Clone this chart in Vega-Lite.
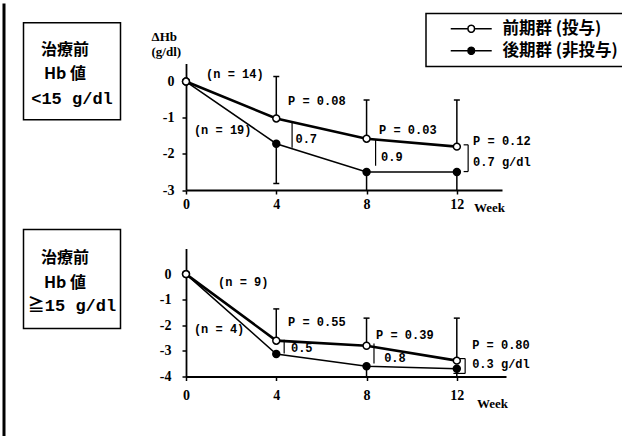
{
  "$schema": "https://vega.github.io/schema/vega-lite/v6.json",
  "padding": {"left": 0.5, "top": 0, "right": 0, "bottom": 0},
  "background": "white",
  "datasets": {
    "means1": [
      {"week": 0, "value": 0, "group": "後期群 (非投与)"},
      {"week": 4, "value": -1.72, "group": "後期群 (非投与)"},
      {"week": 8, "value": -2.5, "group": "後期群 (非投与)"},
      {"week": 12, "value": -2.5, "group": "後期群 (非投与)"},
      {"week": 0, "value": 0, "group": "前期群 (投与)"},
      {"week": 4, "value": -1.02, "group": "前期群 (投与)"},
      {"week": 8, "value": -1.58, "group": "前期群 (投与)"},
      {"week": 12, "value": -1.8, "group": "前期群 (投与)"}
    ],
    "means2": [
      {"week": 0, "value": 0, "group": "後期群 (非投与)"},
      {"week": 4, "value": -3.12, "group": "後期群 (非投与)"},
      {"week": 8, "value": -3.6, "group": "後期群 (非投与)"},
      {"week": 12, "value": -3.7, "group": "後期群 (非投与)"},
      {"week": 0, "value": 0, "group": "前期群 (投与)"},
      {"week": 4, "value": -2.6, "group": "前期群 (投与)"},
      {"week": 8, "value": -2.8, "group": "前期群 (投与)"},
      {"week": 12, "value": -3.38, "group": "前期群 (投与)"}
    ],
    "err1": [
      {"week": 4, "from": -1.02, "to": 0.14, "cap": 0.14},
      {"week": 8, "from": -1.58, "to": -0.51, "cap": -0.51},
      {"week": 12, "from": -1.8, "to": -0.51, "cap": -0.51},
      {"week": 4, "from": -1.72, "to": -2.82, "cap": -2.82},
      {"week": 8, "from": -2.5, "to": -3, "cap": null},
      {"week": 12, "from": -2.5, "to": -3, "cap": null}
    ],
    "err2": [
      {"week": 4, "from": -2.6, "to": -1.36, "cap": -1.36},
      {"week": 8, "from": -2.8, "to": -1.72, "cap": -1.72},
      {"week": 12, "from": -3.38, "to": -1.72, "cap": -1.72},
      {"week": 8, "from": -3.6, "to": -4, "cap": null},
      {"week": 12, "from": -3.7, "to": -4, "cap": null}
    ],
    "brk1": [
      {"x1": 4.7, "y1": -1.1, "x2": 4.7, "y2": -1.83},
      {"x1": 8.4, "y1": -1.6, "x2": 8.4, "y2": -2.33},
      {"x1": 12.5, "y1": -1.75, "x2": 12.5, "y2": -2.49},
      {"x1": 12.3, "y1": -1.75, "x2": 12.5, "y2": -1.75},
      {"x1": 12.3, "y1": -2.49, "x2": 12.5, "y2": -2.49}
    ],
    "brk2": [
      {"x1": 4.35, "y1": -2.56, "x2": 4.35, "y2": -3.1},
      {"x1": 8.33, "y1": -2.71, "x2": 8.33, "y2": -3.49},
      {"x1": 11.85, "y1": -3.3, "x2": 12.37, "y2": -3.3},
      {"x1": 12.37, "y1": -3.3, "x2": 12.37, "y2": -3.88},
      {"x1": 11.85, "y1": -3.88, "x2": 12.37, "y2": -3.88}
    ],
    "notes1": [
      {"x": 0.89, "y": 0.22, "label": "(n = 14)"},
      {"x": 0.35, "y": -1.33, "label": "(n = 19)"},
      {"x": 4.52, "y": -0.53, "label": "P = 0.08"},
      {"x": 4.85, "y": -1.6, "label": "0.7"},
      {"x": 8.55, "y": -1.33, "label": "P = 0.03"},
      {"x": 8.64, "y": -2.08, "label": "0.9"},
      {"x": 12.72, "y": -1.64, "label": "P = 0.12"},
      {"x": 12.72, "y": -2.22, "label": "0.7 g/dl"}
    ],
    "notes2": [
      {"x": 1.42, "y": -0.32, "label": "(n = 9)"},
      {"x": 0.35, "y": -2.13, "label": "(n = 4)"},
      {"x": 4.52, "y": -1.88, "label": "P = 0.55"},
      {"x": 4.65, "y": -2.89, "label": "0.5"},
      {"x": 8.42, "y": -2.37, "label": "P = 0.39"},
      {"x": 8.78, "y": -3.27, "label": "0.8"},
      {"x": 12.68, "y": -2.76, "label": "P = 0.80"},
      {"x": 12.68, "y": -3.5, "label": "0.3 g/dl"}
    ],
    "box1": [
      {"row": 1, "t": "治療前"},
      {"row": 2, "t": "Hb 値"},
      {"row": 3, "t": "<15 g/dl"}
    ],
    "box2": [
      {"row": 1, "t": "治療前"},
      {"row": 2, "t": "Hb 値"},
      {"row": 3, "t": "≧15 g/dl"}
    ]
  },
  "spacing": 15,
  "resolve": {"scale": {"fill": "independent"}, "legend": {"fill": "independent"}},
  "hconcat": [
    {
      "width": 1,
      "height": 433,
      "data": {"values": [{"v": 0}, {"v": 1}]},
      "mark": {"type": "point", "opacity": 0},
      "encoding": {
        "y": {"field": "v", "type": "quantitative", "axis": {"domainWidth": 3, "ticks": false, "labels": false, "title": null, "grid": false}}
      }
    },
    {
      "spacing": 29.5,
      "resolve": {"scale": {"fill": "independent"}, "legend": {"fill": "independent"}},
      "hconcat": [
        {
          "spacing": 107.5,
          "vconcat": [
            {
              "spacing": 17.75,
              "vconcat": [
                {"width": 1, "height": 1, "data": {"values": [{}]}, "mark": {"type": "point", "size": 0, "opacity": 0, "strokeWidth": 0}},
                {
                  "width": 97,
                  "height": 97,
                  "view": {"stroke": "black", "strokeWidth": 1.5},
                  "data": {"name": "box1"},
                  "encoding": {
                    "y": {"field": "row", "type": "ordinal", "scale": {"type": "point", "domain": [1, 2, 3], "padding": 1}, "axis": null},
                    "text": {"field": "t"}
                  },
                  "layer": [
                    {"transform": [{"filter": "datum.row < 3"}], "mark": {"type": "text", "font": "Noto Sans CJK JP", "fontSize": 16, "fontWeight": "bold", "baseline": "middle", "dx": -7, "dy": 3, "color": "black"}},
                    {"transform": [{"filter": "datum.row == 3"}], "mark": {"type": "text", "font": "Liberation Mono, Noto Sans CJK JP", "fontSize": 17, "fontWeight": "bold", "baseline": "middle", "dy": 3, "color": "black"}}
                  ]
                }
              ]
            },
            {
              "width": 97,
              "height": 99,
              "view": {"stroke": "black", "strokeWidth": 1.5},
              "data": {"name": "box2"},
              "encoding": {
                "y": {"field": "row", "type": "ordinal", "scale": {"type": "point", "domain": [1, 2, 3], "padding": 1}, "axis": null},
                "text": {"field": "t"}
              },
              "layer": [
                {"transform": [{"filter": "datum.row < 3"}], "mark": {"type": "text", "font": "Noto Sans CJK JP", "fontSize": 16, "fontWeight": "bold", "baseline": "middle", "dx": -7, "dy": 4, "color": "black"}},
                {"transform": [{"filter": "datum.row == 3"}], "mark": {"type": "text", "font": "Liberation Mono, Noto Sans CJK JP", "fontSize": 17, "fontWeight": "bold", "baseline": "middle", "dy": 2, "color": "black"}}
              ]
            }
          ]
        },
        {
          "spacing": 8.5,
          "resolve": {"scale": {"fill": "independent"}, "legend": {"fill": "independent"}},
          "vconcat": [
            {"width": 1, "height": 1, "data": {"values": [{}]}, "mark": {"type": "point", "size": 0, "opacity": 0, "strokeWidth": 0}},
            {
              "spacing": 58,
              "bounds": "flush",
              "resolve": {"scale": {"fill": "independent"}, "legend": {"fill": "independent"}},
              "vconcat": [
                {
                  "width": 316,
                  "height": 126.5,
                  "layer": [
                    {
                      "data": {"name": "err1"},
                      "mark": {"type": "rule", "color": "black", "strokeWidth": 1.5},
                      "encoding": {
                        "x": {"field": "week", "type": "quantitative", "scale": {"domain": [0, 14], "nice": false, "zero": false},
                          "axis": {"values": [0, 4, 8, 12], "tickCount": 20, "format": "d", "title": "Week", "titleX": 303, "titleY": 17, "titleAlign": "center", "titleBaseline": "middle", "labelPadding": 3}},
                        "y": {"field": "from", "type": "quantitative", "scale": {"domain": [-3, 0.5], "nice": false, "zero": false},
                          "axis": {"values": [0, -1, -2, -3], "tickCount": 20, "labelExpr": "'' + datum.value", "labelOverlap": false, "labelPadding": 8, "title": ["ΔHb", "(g/dl)"], "titleAngle": 0, "titleAlign": "left", "titleBaseline": "top", "titleX": -35, "titleY": -33, "titleLineHeight": 15}},
                        "y2": {"field": "to"}
                      }
                    },
                    {
                      "data": {"name": "err1"},
                      "mark": {"type": "tick", "orient": "horizontal", "color": "black", "size": 6, "thickness": 1.5, "opacity": 1},
                      "encoding": {"x": {"field": "week", "type": "quantitative"}, "y": {"field": "cap", "type": "quantitative"}}
                    },
                    {
                      "data": {"name": "means1"},
                      "transform": [{"filter": "datum.group === '後期群 (非投与)'"}],
                      "mark": {"type": "line", "color": "black", "strokeWidth": 1.5},
                      "encoding": {"x": {"field": "week", "type": "quantitative"}, "y": {"field": "value", "type": "quantitative"}}
                    },
                    {
                      "data": {"name": "means1"},
                      "transform": [{"filter": "datum.group === '前期群 (投与)'"}],
                      "mark": {"type": "line", "color": "black", "strokeWidth": 2.6},
                      "encoding": {"x": {"field": "week", "type": "quantitative"}, "y": {"field": "value", "type": "quantitative"}}
                    },
                    {
                      "data": {"name": "brk1"},
                      "mark": {"type": "rule", "color": "black", "strokeWidth": 1.2},
                      "encoding": {"x": {"field": "x1", "type": "quantitative"}, "x2": {"field": "x2"}, "y": {"field": "y1", "type": "quantitative"}, "y2": {"field": "y2"}}
                    },
                    {
                      "data": {"name": "means1"},
                      "mark": {"type": "point", "shape": "circle", "filled": true, "size": 48, "stroke": "black", "strokeWidth": 1.5, "opacity": 1},
                      "encoding": {
                        "x": {"field": "week", "type": "quantitative"},
                        "y": {"field": "value", "type": "quantitative"},
                        "fill": {"field": "group", "type": "nominal",
                          "scale": {"domain": ["前期群 (投与)", "後期群 (非投与)"], "range": ["white", "black"]},
                          "legend": {"orient": "none", "legendX": 240, "legendY": -50, "title": null,
                            "symbolType": "M2.71,0H7.63A0.943,0.943,0,1,1,9.51,0H14.42M9.51,0A0.943,0.943,0,1,1,7.63,0",
                            "symbolSize": 49, "symbolStrokeColor": "black", "symbolStrokeWidth": 1.5, "symbolOpacity": 1,
                            "labelFont": "Noto Sans CJK JP", "labelFontSize": 16.5, "labelFontWeight": "bold", "labelColor": "black",
                            "labelOffset": 53, "padding": 7, "rowPadding": 5, "strokeColor": "black"}}
                      }
                    },
                    {
                      "data": {"name": "notes1"},
                      "mark": {"type": "text", "align": "left", "baseline": "middle", "font": "Liberation Mono", "fontSize": 12, "fontWeight": "bold", "color": "black"},
                      "encoding": {"x": {"field": "x", "type": "quantitative"}, "y": {"field": "y", "type": "quantitative"}, "text": {"field": "label"}}
                    }
                  ]
                },
                {
                  "width": 320,
                  "height": 128,
                  "layer": [
                    {
                      "data": {"name": "err2"},
                      "mark": {"type": "rule", "color": "black", "strokeWidth": 1.5},
                      "encoding": {
                        "x": {"field": "week", "type": "quantitative", "scale": {"domain": [0, 14.18], "nice": false, "zero": false},
                          "axis": {"values": [0, 4, 8, 12], "tickCount": 20, "format": "d", "title": "Week", "titleX": 306, "titleY": 27, "titleAlign": "center", "titleBaseline": "middle", "labelPadding": 8}},
                        "y": {"field": "from", "type": "quantitative", "scale": {"domain": [-4, 1], "nice": false, "zero": false},
                          "axis": {"values": [0, -1, -2, -3, -4], "tickCount": 20, "labelExpr": "'' + datum.value", "labelOverlap": false, "labelPadding": 11, "title": null}},
                        "y2": {"field": "to"}
                      }
                    },
                    {
                      "data": {"name": "err2"},
                      "mark": {"type": "tick", "orient": "horizontal", "color": "black", "size": 6, "thickness": 1.5, "opacity": 1},
                      "encoding": {"x": {"field": "week", "type": "quantitative"}, "y": {"field": "cap", "type": "quantitative"}}
                    },
                    {
                      "data": {"name": "means2"},
                      "transform": [{"filter": "datum.group === '後期群 (非投与)'"}],
                      "mark": {"type": "line", "color": "black", "strokeWidth": 1.5},
                      "encoding": {"x": {"field": "week", "type": "quantitative"}, "y": {"field": "value", "type": "quantitative"}}
                    },
                    {
                      "data": {"name": "means2"},
                      "transform": [{"filter": "datum.group === '前期群 (投与)'"}],
                      "mark": {"type": "line", "color": "black", "strokeWidth": 2.6},
                      "encoding": {"x": {"field": "week", "type": "quantitative"}, "y": {"field": "value", "type": "quantitative"}}
                    },
                    {
                      "data": {"name": "brk2"},
                      "mark": {"type": "rule", "color": "black", "strokeWidth": 1.2},
                      "encoding": {"x": {"field": "x1", "type": "quantitative"}, "x2": {"field": "x2"}, "y": {"field": "y1", "type": "quantitative"}, "y2": {"field": "y2"}}
                    },
                    {
                      "data": {"name": "means2"},
                      "mark": {"type": "point", "shape": "circle", "filled": true, "size": 48, "stroke": "black", "strokeWidth": 1.5, "opacity": 1},
                      "encoding": {
                        "x": {"field": "week", "type": "quantitative"},
                        "y": {"field": "value", "type": "quantitative"},
                        "fill": {"field": "group", "type": "nominal",
                          "scale": {"domain": ["前期群 (投与)", "後期群 (非投与)"], "range": ["white", "black"]},
                          "legend": null}
                      }
                    },
                    {
                      "data": {"name": "notes2"},
                      "mark": {"type": "text", "align": "left", "baseline": "middle", "font": "Liberation Mono", "fontSize": 12, "fontWeight": "bold", "color": "black"},
                      "encoding": {"x": {"field": "x", "type": "quantitative"}, "y": {"field": "y", "type": "quantitative"}, "text": {"field": "label"}}
                    }
                  ]
                }
              ]
            }
          ]
        }
      ]
    }
  ],
  "config": {
    "view": {"stroke": null},
    "font": "Liberation Sans Narrow",
    "axis": {
      "domainColor": "black", "domainWidth": 1.8, "tickColor": "black", "tickWidth": 1.5, "tickSize": 4,
      "labelColor": "black", "labelFont": "Liberation Sans Narrow", "labelFontSize": 14, "labelFontWeight": "bold", "labelFlush": false, "labelOverlap": false,
      "titleColor": "black", "titleFont": "Liberation Sans Narrow", "titleFontSize": 13, "titleFontWeight": "bold", "grid": false
    },
    "legend": {"strokeWidth": 1.5}
  }
}
